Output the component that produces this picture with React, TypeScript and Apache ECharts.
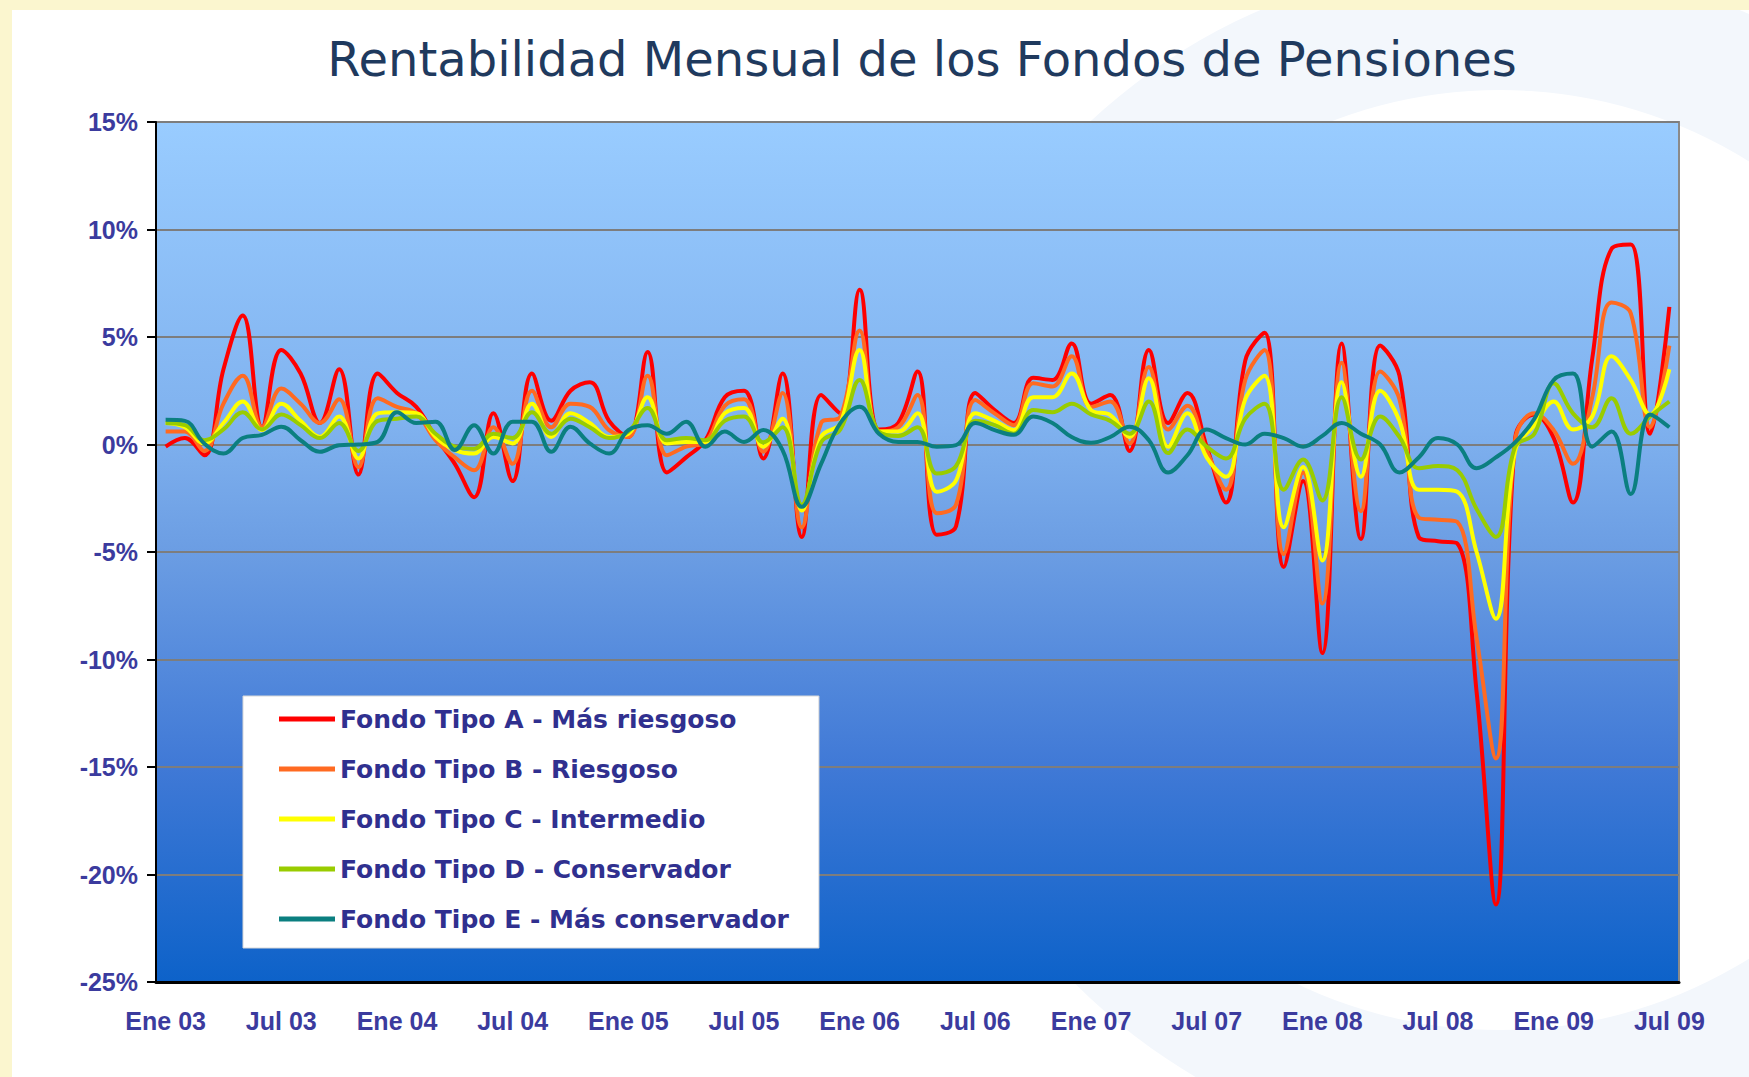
import React, { useEffect, useRef } from "react";
import * as echarts from "echarts";

// ---- Data (monthly returns, %) ----
const MONTHS = ["Ene", "Feb", "Mar", "Abr", "May", "Jun", "Jul", "Ago", "Sep", "Oct", "Nov", "Dic"];
const YEARS = ["03", "04", "05", "06", "07", "08", "09"];
const N_MONTHS = 79; // Ene 03 .. Jul 09
const categories: string[] = [];
for (const y of YEARS) for (const m of MONTHS) if (categories.length < N_MONTHS) categories.push(`${m} ${y}`);

const fondoA = [
  -0.1, 0.3, -0.5, 3.5, 6.0, 0.8, 4.4, 3.3, 1.0, 3.5, -1.4, 3.3,
  2.4, 1.75, 0.35, -0.9, -2.45, 1.45, -1.7, 3.3, 1.1, 2.5, 2.9, 1.1,
  0.35, 4.3, -1.3, -0.6, 0.2, 2.2, 2.5, -0.65, 3.3, -4.3, 2.3, 1.45,
  7.2, 0.7, 1.0, 3.4, -4.2, -3.8, 2.4, 1.6, 1.0, 3.1, 3.0, 4.7,
  1.9, 2.3, -0.3, 4.4, 1.0, 2.4, -0.1, -2.7, 3.9, 5.2, -5.7, -1.7,
  -9.7, 4.7, -4.4, 4.6, 3.2, -4.3, -4.5, -4.6, -11.5, -21.4, 0.3, 1.4,
  0.3, -2.7, 4.0, 9.1, 9.3, 0.5, 6.4,
];
const fondoB = [
  0.6, 0.6, -0.3, 1.9, 3.2, 0.8, 2.6, 1.9, 1.0, 2.1, -1.05, 2.15,
  1.75, 1.45, 0.2, -0.6, -1.2, 0.8, -0.9, 2.5, 0.8, 1.9, 1.75, 0.67,
  0.35, 3.2, -0.5, -0.1, 0.12, 1.8, 2.1, -0.34, 2.4, -3.85, 1.0, 1.3,
  5.3, 0.6, 0.8, 2.3, -3.2, -2.8, 2.07, 1.45, 0.9, 2.85, 2.7, 4.1,
  1.75, 2.0, 0.05, 3.6, 0.7, 1.8, -0.3, -2.1, 3.0, 4.4, -5.1, -1.3,
  -7.4, 3.8, -3.1, 3.4, 2.1, -3.4, -3.5, -3.6, -9.0, -14.6, 0.2, 1.45,
  0.67, -0.9, 2.2, 6.6, 6.1, 0.8, 4.6,
];
const fondoC = [
  1.0, 0.8, 0.05, 1.0, 2.0, 0.67, 1.9, 1.1, 0.35, 1.3, -0.65, 1.45,
  1.5, 1.45, 0.35, -0.26, -0.42, 0.35, 0.05, 1.9, 0.35, 1.45, 1.0, 0.35,
  0.5, 2.2, 0.05, 0.12, 0.12, 1.45, 1.7, -0.1, 1.2, -3.07, 0.35, 1.0,
  4.4, 0.6, 0.6, 1.45, -2.2, -1.67, 1.45, 1.1, 0.67, 2.2, 2.2, 3.3,
  1.6, 1.37, 0.35, 3.08, -0.1, 1.45, -0.6, -1.5, 2.1, 3.2, -3.85, -1.05,
  -5.4, 2.9, -1.5, 2.5, 1.1, -2.1, -2.1, -2.2, -5.0, -8.1, -0.3, 0.9,
  2.0, 0.7, 1.3, 4.1, 3.0, 1.4, 3.5,
];
const fondoD = [
  1.0, 0.9, 0.2, 0.7, 1.5, 0.7, 1.4, 0.9, 0.3, 1.0, -0.3, 1.1,
  1.2, 1.3, 0.5, -0.1, -0.2, 0.5, 0.3, 1.5, 0.5, 1.2, 0.8, 0.3,
  0.6, 1.7, 0.2, 0.3, 0.2, 1.1, 1.3, 0.1, 0.8, -2.8, 0.1, 0.7,
  3.0, 0.6, 0.4, 0.8, -1.35, -1.0, 1.1, 0.9, 0.5, 1.6, 1.5, 1.9,
  1.4, 1.1, 0.5, 2.0, -0.4, 0.7, -0.1, -0.65, 1.2, 1.9, -2.1, -0.7,
  -2.6, 2.2, -0.7, 1.3, 0.35, -1.1, -1.0, -1.2, -3.0, -4.3, -0.1, 0.5,
  2.85, 1.45, 0.8, 2.15, 0.5, 1.3, 2.0,
];
const fondoE = [
  1.15, 1.1, 0.05, -0.42, 0.3, 0.45, 0.83, 0.2, -0.34, -0.03, 0.0, 0.12,
  1.5, 1.0, 1.06, -0.26, 0.9, -0.42, 1.06, 1.06, -0.34, 0.83, 0.05, -0.42,
  0.67, 0.9, 0.5, 1.06, -0.1, 0.6, 0.12, 0.67, -0.26, -2.9, -0.9, 1.0,
  1.76, 0.5, 0.12, 0.12, -0.1, -0.03, 1.0, 0.67, 0.45, 1.3, 1.0, 0.35,
  0.08, 0.35, 0.83, 0.2, -1.3, -0.5, 0.7, 0.3, 0.0, 0.5, 0.3, -0.1,
  0.4, 1.0, 0.5, 0.0, -1.3, -0.6, 0.3, 0.0, -1.1, -0.6, 0.1, 1.2,
  3.0, 3.3, -0.1, 0.6, -2.3, 1.4, 0.8,
];

const seriesNames = [
  "Fondo Tipo A - Más riesgoso",
  "Fondo Tipo B - Riesgoso",
  "Fondo Tipo C - Intermedio",
  "Fondo Tipo D - Conservador",
  "Fondo Tipo E - Más conservador",
];
const seriesData = [fondoA, fondoB, fondoC, fondoD, fondoE];
const seriesColors = ["#ff0000", "#ff6a21", "#ffff00", "#99cc00", "#0b7f80"];

const yMin = -25;
const yMax = 15;
const yStep = 5;
const titleText = "Rentabilidad Mensual de los Fondos de Pensiones";

export default function App() {
  const ref = useRef<HTMLDivElement>(null);

  useEffect(() => {
    document.body.style.margin = "0";
    if (!ref.current) return;
    const chart = echarts.init(ref.current, undefined, { renderer: "svg" });
    const labelColor = "#3b3b9e";
    const axisFont = {
      fontFamily: "Liberation Sans, Arial, sans-serif",
      fontWeight: "bold" as const,
      fontSize: 25,
      color: labelColor,
    };

    chart.setOption({
      animation: false,
      backgroundColor: "#ffffff",
      title: {
        text: titleText,
        left: 917,
        textAlign: "center",
        top: 30,
        textStyle: {
          fontFamily: "DejaVu Sans, Verdana, sans-serif",
          fontWeight: "normal",
          fontSize: 48,
          color: "#1f3a5e",
        },
      },
      graphic: [
        {
          type: "ring",
          z: -10,
          silent: true,
          shape: { cx: 1500, cy: 560, r: 600, r0: 470 },
          style: { fill: "#f3f7fc" },
        },
        { type: "rect", z: -9, silent: true, shape: { x: 0, y: 0, width: 1749, height: 10 }, style: { fill: "#fbf6cf" } },
        { type: "rect", z: -9, silent: true, shape: { x: 0, y: 0, width: 12, height: 1077 }, style: { fill: "#fbf6cf" } },
      ],
      grid: {
        left: 156,
        right: 70,
        top: 122,
        bottom: 95,
        show: true,
        borderColor: "#8a8a8a",
        borderWidth: 2,
        backgroundColor: new echarts.graphic.LinearGradient(0, 0, 0, 1, [
          { offset: 0, color: "#99ccff" },
          { offset: 0.35, color: "#80b2ef" },
          { offset: 0.5, color: "#6b9de3" },
          { offset: 0.75, color: "#4079d6" },
          { offset: 1, color: "#0d62c9" },
        ]),
      },
      legend: {
        orient: "vertical",
        left: 243,
        top: 696,
        padding: [8, 30, 14, 36],
        backgroundColor: "#ffffff",
        borderColor: "#d8d8d8",
        borderWidth: 1,
        icon: "rect",
        itemWidth: 56,
        itemHeight: 5,
        itemGap: 20,
        textStyle: {
          fontFamily: "DejaVu Sans, Verdana, sans-serif",
          fontWeight: "bold",
          fontSize: 25,
          lineHeight: 30,
          color: "#30308f",
        },
        data: seriesNames.map((n, i) => ({ name: n, itemStyle: { color: seriesColors[i] } })),
      },
      xAxis: {
        type: "category",
        data: categories,
        boundaryGap: true,
        axisLine: { onZero: false, lineStyle: { color: "#000000", width: 3 } },
        axisTick: { interval: 5, length: 9, lineStyle: { color: "#000000", width: 2 } },
        axisLabel: { interval: 5, margin: 26, ...axisFont },
        splitLine: { show: false },
      },
      yAxis: {
        type: "value",
        min: yMin,
        max: yMax,
        interval: yStep,
        axisLine: { show: true, lineStyle: { color: "#000000", width: 2 } },
        axisTick: { show: true, length: 9, lineStyle: { color: "#000000", width: 2 } },
        axisLabel: { margin: 18, formatter: (v: number) => `${v}%`, ...axisFont },
        splitLine: { lineStyle: { color: "#7d7d7d", width: 2 } },
      },
      series: seriesNames.map((name, i) => ({
        name,
        type: "line",
        data: seriesData[i],
        smooth: 0.4,
        symbol: "none",
        lineStyle: { color: seriesColors[i], width: 4 },
        itemStyle: { color: seriesColors[i] },
      })),
    });

    return () => chart.dispose();
  }, []);

  return <div ref={ref} style={{ width: 1749, height: 1077 }} />;
}
